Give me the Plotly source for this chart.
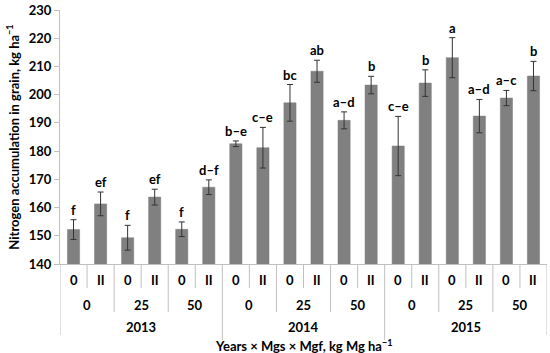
import plotly.graph_objects as go

years = ["2013", "2014", "2015"]
mgs_levels = ["0", "25", "50"]
mgf_levels = ["0", "II"]

values = [152.2, 161.3, 149.3, 163.7, 152.3, 167.2,
          182.6, 181.2, 197.1, 208.3, 190.9, 203.4,
          181.8, 204.1, 213.1, 192.4, 198.8, 206.6]
errors = [3.5, 4.2, 4.4, 2.8, 2.6, 2.6,
          1.0, 7.2, 6.5, 3.9, 3.0, 3.1,
          10.5, 4.7, 7.1, 5.9, 2.7, 5.2]
letters = ["f", "ef", "f", "ef", "f", "d–f",
           "b–e", "c–e", "bc", "ab", "a–d", "b",
           "c–e", "b", "a", "a–d", "a–c", "b"]

n = len(values)
xs = list(range(n))
FONT = "Lato"
FS = 13
PLOT_H = 254.0  # plot area height in px

fig = go.Figure()
fig.add_trace(go.Bar(
    x=xs, y=values, width=0.45,
    marker=dict(color="#808080", line=dict(color="#7a7a7a", width=0.5)),
    error_y=dict(type="data", array=errors, visible=True,
                 color="#333333", thickness=1, width=3),
    showlegend=False,
))

ann = []
for i in xs:
    ann.append(dict(x=i, y=values[i] + errors[i], xref="x", yref="y",
                    text=letters[i], showarrow=False, yanchor="bottom",
                    yshift=0, font=dict(family=FONT, size=FS, color="black")))

# hierarchical category labels
for i in xs:
    ann.append(dict(x=i, y=0, xref="x", yref="paper", text=mgf_levels[i % 2],
                    showarrow=False, yanchor="middle", yshift=-16,
                    font=dict(family=FONT, size=FS, color="black")))
for g in range(n // 2):
    ann.append(dict(x=2 * g + 0.5, y=0, xref="x", yref="paper",
                    text=mgs_levels[g % 3], showarrow=False, yanchor="middle",
                    yshift=-41, font=dict(family=FONT, size=FS, color="black")))
for yi, yr in enumerate(years):
    ann.append(dict(x=6 * yi + 2.5, y=0, xref="x", yref="paper", text=yr,
                    showarrow=False, yanchor="middle", yshift=-63,
                    font=dict(family=FONT, size=FS, color="black")))
ann.append(dict(x=0.5, y=0, xref="paper", yref="paper",
                text="Years × Mgs × Mgf, kg Mg ha<sup>−1</sup>",
                showarrow=False, yanchor="middle", yshift=-81,
                font=dict(family=FONT, size=FS, color="black")))

shapes = []
for b in range(n + 1):
    xb = b - 0.5
    if b == 0 or b == n:
        length = 71
    elif b % 6 == 0:
        length = 76
    elif b % 2 == 0:
        length = 48
    else:
        length = 24
    shapes.append(dict(type="line", xref="x", yref="paper", x0=xb, x1=xb,
                       y0=0, y1=-length / PLOT_H,
                       line=dict(color="#c0c0c0", width=1)))

fig.update_layout(
    width=550, height=353,
    margin=dict(l=60, r=3, t=10, b=89),
    plot_bgcolor="white", paper_bgcolor="white",
    bargap=0.5,
    annotations=ann, shapes=shapes,
    xaxis=dict(range=[-0.5, n - 0.5], showticklabels=False, showgrid=False,
               zeroline=False, showline=True, linecolor="#c0c0c0",
               linewidth=1, ticks=""),
    yaxis=dict(range=[140, 230], dtick=10, showgrid=False, zeroline=False,
               showline=True, linecolor="#c0c0c0", linewidth=1,
               ticks="outside", ticklen=5, tickcolor="#c0c0c0",
               tickfont=dict(family=FONT, size=FS, color="black"),
               title=dict(text="Nitrogen accumulation in grain, kg ha<sup>−1</sup>",
                          font=dict(family=FONT, size=FS, color="black"),
                          standoff=6)),
    font=dict(family=FONT, weight="bold"),
)

fig.write_html("out.html", config={"displayModeBar": False},
               post_script="document.body.style.margin='0';document.body.style.padding='0';document.body.style.overflow='hidden';")
